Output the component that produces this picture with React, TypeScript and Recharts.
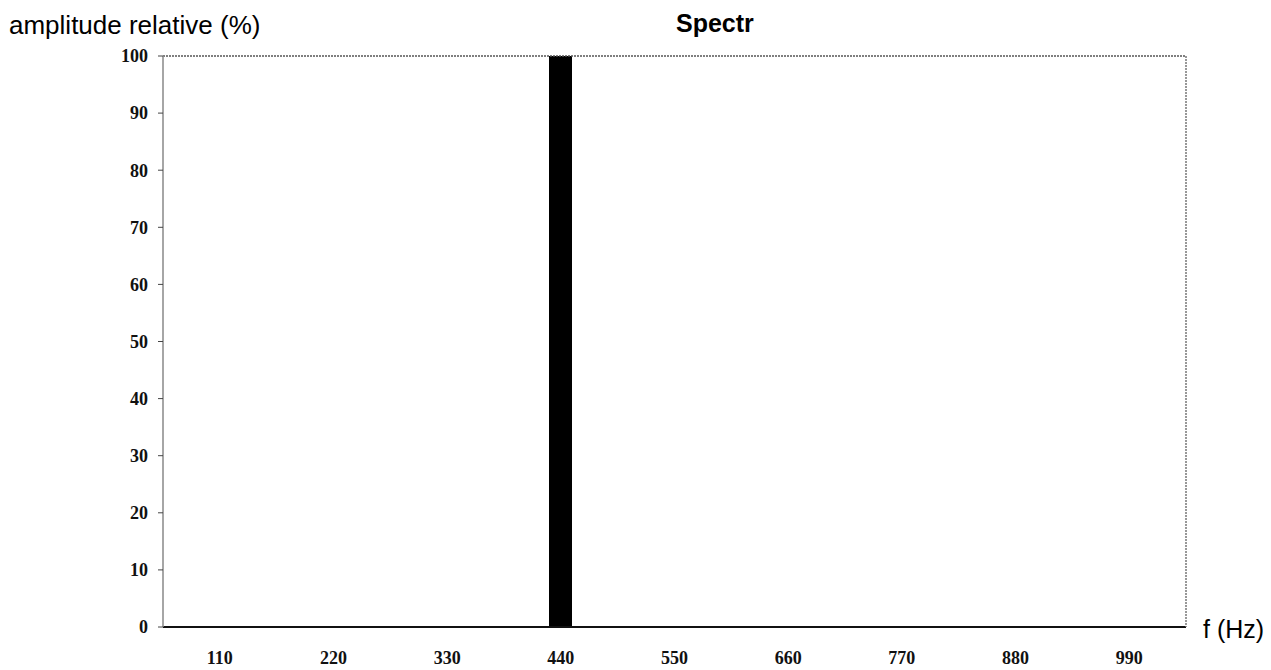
import { BarChart, Bar, XAxis, YAxis } from "recharts";

const frequencies = ["110", "220", "330", "440", "550", "660", "770", "880", "990"];
const amplitudes = [0, 0, 0, 100, 0, 0, 0, 0, 0];
const yTicks = [0, 10, 20, 30, 40, 50, 60, 70, 80, 90, 100];

const data = frequencies.map((f, i) => ({ f, amplitude: amplitudes[i] }));

const tickFont = {
  fontFamily: "'Liberation Serif', serif",
  fontWeight: 700,
  fontSize: 18,
  fill: "#111",
};

const sans = "'Liberation Sans', Arial, sans-serif";

export default function App() {
  return (
    <div style={{ position: "absolute", left: 0, top: 0, width: 1271, height: 670, background: "#fff" }}>
      <BarChart
        width={1271}
        height={670}
        data={data}
        margin={{ top: 55, right: 84, bottom: 3, left: 103 }}
        barSize={23}
      >
        <XAxis
          dataKey="f"
          xAxisId="bottom"
          axisLine={{ stroke: "#111", strokeWidth: 2 }}
          tickLine={false}
          tickSize={6}
          tickMargin={18}
          tick={tickFont}
          interval={0}
          height={40}
        />
        <XAxis
          dataKey="f"
          xAxisId="top"
          orientation="top"
          axisLine={{ stroke: "#555", strokeDasharray: "2 1", strokeWidth: 1.5 }}
          tick={false}
          tickLine={false}
          height={1}
        />
        <YAxis
          yAxisId="left"
          domain={[0, 100]}
          ticks={yTicks}
          axisLine={{ stroke: "#888", strokeWidth: 1.5 }}
          tickLine={{ stroke: "#444" }}
          tickSize={5}
          tickMargin={10}
          tick={tickFont}
          width={60}
        />
        <YAxis
          yAxisId="right"
          orientation="right"
          domain={[0, 100]}
          axisLine={{ stroke: "#777", strokeDasharray: "2 1", strokeWidth: 1.5 }}
          tick={false}
          tickLine={false}
          width={1}
        />
        <Bar
          dataKey="amplitude"
          xAxisId="bottom"
          yAxisId="left"
          fill="#000"
          isAnimationActive={false}
        />
      </BarChart>
      <div style={{ position: "absolute", left: 9, top: 10, fontFamily: sans, fontSize: 26, color: "#000" }}>
        amplitude relative (%)
      </div>
      <div
        style={{ position: "absolute", left: 676, top: 9, fontFamily: sans, fontSize: 25, fontWeight: 700, color: "#000" }}
      >
        Spectr
      </div>
      <div style={{ position: "absolute", left: 1203, top: 615, fontFamily: sans, fontSize: 25, color: "#000" }}>
        f (Hz)
      </div>
    </div>
  );
}
